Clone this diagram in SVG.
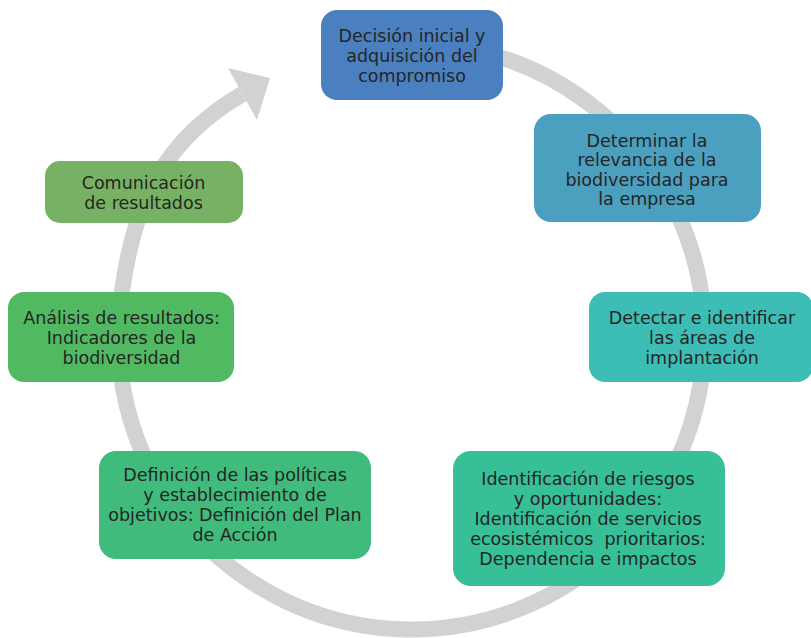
<svg xmlns="http://www.w3.org/2000/svg" width="811" height="638" viewBox="0 0 811 638">
<style>
  .box text { font-family: "DejaVu Sans", "Noto Sans", sans-serif; font-size: 17.5px; fill: #252525; text-anchor: middle; }
  .ring { fill: none; stroke: #d1d2d4; stroke-width: 16; }
  .head { fill: #d1d2d4; }
</style>
<rect width="811" height="638" fill="#ffffff"/>
<g id="connectors">
  <path class="ring" d="M350,50 A293,293 0 1,1 122.2,290 C134.5,201 165,139 242.5,94"/>
  <polygon class="head" points="270,78 228,68 257,120"/>
</g>
<g id="node-decision" class="box">
  <rect x="321" y="10" width="182" height="90" rx="16" fill="#4a7fc0"/>
  <text x="412" y="42">Decisión inicial y</text>
  <text x="412" y="62">adquisición del</text>
  <text x="412" y="82">compromiso</text>
</g>
<g id="node-determinar" class="box">
  <rect x="534" y="114" width="227" height="108" rx="17" fill="#4ba0bf"/>
  <text x="647" y="146.5">Determinar la</text>
  <text x="647" y="166">relevancia de la</text>
  <text x="647" y="185.5">biodiversidad para</text>
  <text x="647" y="205">la empresa</text>
</g>
<g id="node-detectar" class="box">
  <rect x="589" y="292" width="224" height="90" rx="16" fill="#3cbdb6"/>
  <text x="702" y="324">Detectar e identificar</text>
  <text x="702" y="344">las áreas de</text>
  <text x="702" y="364">implantación</text>
</g>
<g id="node-identificacion" class="box">
  <rect x="453" y="451" width="272" height="135" rx="18" fill="#37bf98"/>
  <text x="588" y="484.5">Identificación de riesgos</text>
  <text x="588" y="504.5">y oportunidades:</text>
  <text x="588" y="524.5">Identificación de servicios</text>
  <text x="588" y="544.5" xml:space="preserve">ecosistémicos  prioritarios:</text>
  <text x="588" y="564.5">Dependencia e impactos</text>
</g>
<g id="node-definicion" class="box">
  <rect x="99" y="451" width="272" height="108" rx="17" fill="#40bb7b"/>
  <text x="235" y="481">Definición de las políticas</text>
  <text x="235" y="501">y establecimiento de</text>
  <text x="235" y="521">objetivos: Definición del Plan</text>
  <text x="235" y="541">de Acción</text>
</g>
<g id="node-analisis" class="box">
  <rect x="8" y="292" width="226" height="90" rx="16" fill="#52b963"/>
  <text x="121.5" y="324">Análisis de resultados:</text>
  <text x="121.5" y="344">Indicadores de la</text>
  <text x="121.5" y="363.5">biodiversidad</text>
</g>
<g id="node-comunicacion" class="box">
  <rect x="45" y="161" width="198" height="62" rx="15" fill="#77b163"/>
  <text x="143.5" y="188.5">Comunicación</text>
  <text x="143.5" y="208.5">de resultados</text>
</g>
</svg>
